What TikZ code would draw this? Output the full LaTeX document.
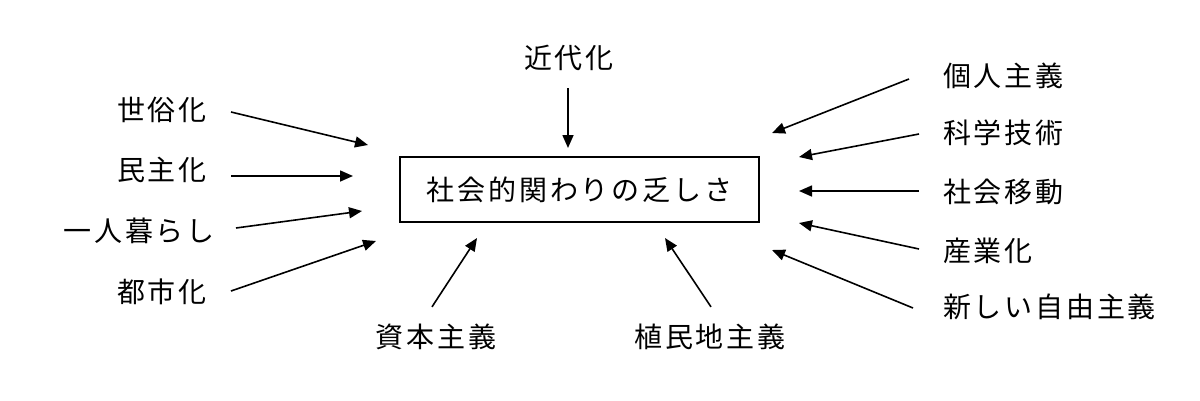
\documentclass[tikz,border=0pt]{standalone}
\usepackage{fontspec}
\setmainfont{Noto Sans CJK JP}[LetterSpace=10]
\usepackage{tikz}
\usetikzlibrary{arrows.meta}

\begin{document}
\begin{tikzpicture}[x=1pt,y=-1pt,
	every node/.style={inner sep=0pt,font=\fontsize{28}{32}\selectfont},
	arr/.style={line width=1.6pt,-{Triangle[length=13pt,width=11pt]}}]

		\useasboundingbox (0,0) rectangle (1200,400);

		\coordinate (T1) at (368,145);
		\coordinate (T2) at (353,176);
		\coordinate (T3) at (362,211);
		\coordinate (T4) at (376,241);
		\coordinate (T5) at (568,148);
		\coordinate (T6) at (477,238);
		\coordinate (T7) at (665,238);
		\coordinate (T8) at (772,133);
		\coordinate (T9) at (799,157);
		\coordinate (T10) at (799,191);
		\coordinate (T11) at (799,223);
		\coordinate (T12) at (772,250);

		\node[draw=black,line width=1.5pt,minimum width=359pt,minimum height=65pt] (box) at (579.5,189.5) {社会的関わりの乏しさ};

		\node (kindai) at (569,58) {近代化};
		\node[anchor=east] (sezoku) at (207,110) {世俗化};
		\node[anchor=east] (minshu) at (207,170) {民主化};
		\node[anchor=east] (hitori) at (215,231) {一人暮らし};
		\node[anchor=east] (toshi) at (207,292) {都市化};
		\node (shihon) at (436,337) {資本主義};
		\node (shokumin) at (710,337) {植民地主義};
		\node[anchor=west] (kojin) at (943,76) {個人主義};
		\node[anchor=west] (kagaku) at (943,133) {科学技術};
		\node[anchor=west] (idou) at (943,192) {社会移動};
		\node[anchor=west] (sangyo) at (943,251) {産業化};
		\node[anchor=west] (shinjiyu) at (943,307) {新しい自由主義};

		\path[arr] ([shift={(-1,17)}]kindai.south) edge (T5);
		\path[arr] ([shift={(24,2)}]sezoku.east) edge (T1);
		\path[arr] ([shift={(24,6)}]minshu.east) edge (T2);
		\path[arr] ([shift={(21,-3)}]hitori.east) edge (T3);
		\path[arr] ([shift={(24,-1)}]toshi.east) edge (T4);
		\path[arr] ([shift={(-4,-17)}]shihon.north) edge (T6);
		\path[arr] ([shift={(1,-17)}]shokumin.north) edge (T7);
		\path[arr] ([shift={(-34,3)}]kojin.west) edge (T8);
		\path[arr] ([shift={(-24,1)}]kagaku.west) edge (T9);
		\path[arr] ([shift={(-24,-1)}]idou.west) edge (T10);
		\path[arr] ([shift={(-24,-2)}]sangyo.west) edge (T11);
		\path[arr] ([shift={(-30,1)}]shinjiyu.west) edge (T12);
		\end{tikzpicture}
\end{document}
